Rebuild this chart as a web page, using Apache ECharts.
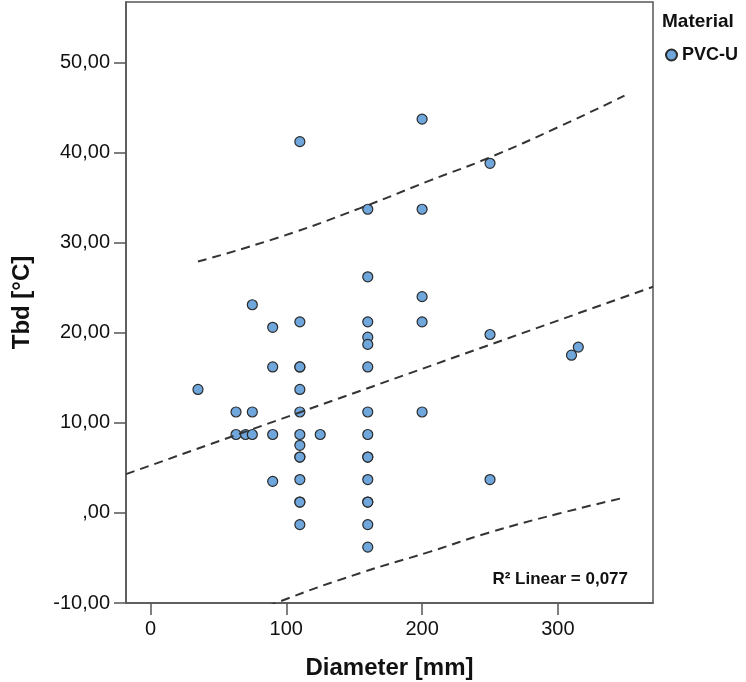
<!DOCTYPE html>
<html>
<head>
<meta charset="utf-8">
<title>Tbd vs Diameter</title>
<script src="https://cdn.jsdelivr.net/npm/echarts@6.0.0/dist/echarts.min.js"></script>
<style>
    html, body { margin: 0; padding: 0; background: #fff; }
    #chart { width: 746px; height: 682px; }
</style>
</head>
<body>
<div id="chart"></div>
<script>
// measured points (diameter in mm, Tbd in °C)
const diameter = [
    35,
    63, 63,
    70,
    75, 75, 75,
    90, 90, 90, 90,
    110, 110, 110, 110, 110, 110, 110, 110, 110, 110, 110, 110, 110, 110,
    125,
    160, 160, 160, 160, 160, 160, 160, 160, 160, 160, 160, 160, 160, 160, 160,
    200, 200, 200, 200, 200,
    250, 250, 250,
    310, 315
]
const tbd = [
    13.7,
    11.2, 8.7,
    8.7,
    23.1, 11.2, 8.7,
    20.6, 16.2, 8.7, 3.5,
    41.2, 21.2, 16.2, 16.2, 13.7, 11.2, 8.7, 7.5, 6.2, 6.2, 3.7, 1.2, 1.2, -1.3,
    8.7,
    33.7, 26.2, 21.2, 19.5, 18.7, 16.2, 11.2, 8.7, 6.2, 6.2, 3.7, 1.2, 1.2, -1.3, -3.8,
    43.7, 33.7, 24.0, 21.2, 11.2,
    38.8, 19.8, 3.7,
    17.5, 18.4
]

// linear fit line and prediction band
const fitX = [-18, 370]
const fitY = [4.3, 25.1]
const bandX = [35, 95, 154, 206, 249, 300, 349]
const upperY = [27.9, 30.6, 33.8, 36.9, 39.4, 42.8, 46.3]
const lowerY = [-13.6, -9.85, -6.7, -4.3, -2.2, -0.1, 1.7]

const xTicks = [0, 100, 200, 300]
const yTicks = [-10, 0, 10, 20, 30, 40, 50]

const fontFamily = '"Liberation Sans", Arial, sans-serif'

function pairs(xs, ys) {
    let out = []
    for (let i = 0; i < xs.length; i++) out.push([xs[i], ys[i]])
    return out
}

function yLabel(v) {
    let s = v.toFixed(2).replace('.', ',')
    return s.replace(/^0,/, ',')
}

let dashLine = {
    color: '#333',
    width: 2,
    type: [9, 6]
}

let axisColor = '#555'

let myChart = echarts.init(document.getElementById('chart'))
let option = {
    animation: false,
    backgroundColor: '#fff',
    textStyle: { fontFamily: fontFamily },
    grid: {
        left: 126,
        top: 2,
        right: 93,
        bottom: 79,
        outerBoundsMode: 'none',
        show: true,
        borderColor: axisColor,
        borderWidth: 1.5
    },
    legend: {
        data: ['PVC-U'],
        left: 665,
        top: 46,
        padding: 0,
        icon: 'circle',
        itemWidth: 11,
        itemHeight: 11,
        textStyle: {
            fontFamily: fontFamily,
            fontWeight: 'bold',
            fontSize: 18,
            color: '#111'
        }
    },
    graphic: [
        {
            type: 'text',
            left: 662,
            top: 12,
            style: {
                text: 'Material',
                font: 'bold 19px ' + fontFamily,
                fill: '#111'
            }
        },
        {
            type: 'text',
            right: 118,
            top: 571,
            style: {
                text: 'R² Linear = 0,077',
                font: 'bold 17px ' + fontFamily,
                fill: '#111'
            }
        }
    ],
    xAxis: {
        type: 'value',
        min: -18,
        max: 370,
        name: 'Diameter [mm]',
        nameLocation: 'middle',
        nameGap: 53,
        nameTextStyle: {
            fontFamily: fontFamily,
            fontWeight: 'bold',
            fontSize: 24,
            color: '#111'
        },
        splitLine: { show: false },
        axisLine: { show: true, onZero: false, lineStyle: { color: axisColor, width: 1.5 } },
        axisTick: {
            show: true,
            length: 12,
            customValues: xTicks,
            lineStyle: { color: axisColor, width: 1.5 }
        },
        axisLabel: {
            customValues: xTicks,
            margin: 16,
            fontSize: 20,
            color: '#111',
            fontFamily: fontFamily
        }
    },
    yAxis: {
        type: 'value',
        min: -10,
        max: 56.7,
        name: 'Tbd [°C]',
        nameLocation: 'middle',
        nameGap: 92,
        nameTextStyle: {
            fontFamily: fontFamily,
            fontWeight: 'bold',
            fontSize: 24,
            color: '#111'
        },
        splitLine: { show: false },
        axisLine: { show: true, onZero: false, lineStyle: { color: axisColor, width: 1.5 } },
        axisTick: {
            show: true,
            length: 12,
            customValues: yTicks,
            lineStyle: { color: axisColor, width: 1.5 }
        },
        axisLabel: {
            customValues: yTicks,
            margin: 16,
            fontSize: 20,
            color: '#111',
            fontFamily: fontFamily,
            formatter: yLabel
        }
    },
    series: [
        {
            name: 'PVC-U',
            type: 'scatter',
            symbol: 'circle',
            symbolSize: 10,
            itemStyle: {
                color: '#6fa6dc',
                borderColor: '#2a2a2a',
                borderWidth: 1.2,
                opacity: 1
            },
            data: pairs(diameter, tbd),
            z: 2
        },
        {
            name: 'fit',
            type: 'line',
            symbol: 'none',
            data: pairs(fitX, fitY),
            lineStyle: dashLine,
            z: 3
        },
        {
            name: 'upper',
            type: 'line',
            smooth: true,
            symbol: 'none',
            data: pairs(bandX, upperY),
            lineStyle: dashLine,
            z: 3
        },
        {
            name: 'lower',
            type: 'line',
            smooth: true,
            symbol: 'none',
            data: pairs(bandX, lowerY),
            lineStyle: dashLine,
            z: 3
        }
    ]
}
myChart.setOption(option)
window.addEventListener('resize', function() {
    myChart.resize()
})
</script>
</body>
</html>
